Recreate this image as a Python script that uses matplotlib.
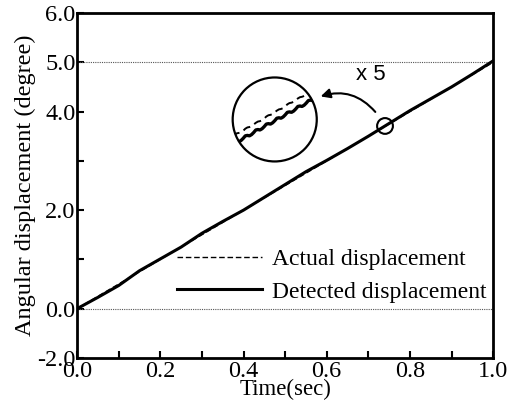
import numpy as np
import matplotlib
matplotlib.use('Agg')
import matplotlib.pyplot as plt
from matplotlib.patches import Ellipse, FancyArrowPatch
from matplotlib.ticker import MultipleLocator, FixedLocator

# --- Data ---
time_s = [0.0, 0.05, 0.1, 0.15, 0.2, 0.25, 0.3, 0.35, 0.4, 0.45, 0.5,
          0.55, 0.6, 0.65, 0.7, 0.75, 0.8, 0.85, 0.9, 0.95, 1.0]
actual_deg = [0.0, 0.25, 0.5, 0.75, 1.0, 1.25, 1.5, 1.75, 2.0, 2.25, 2.5,
              2.75, 3.0, 3.25, 3.5, 3.75, 4.0, 4.25, 4.5, 4.75, 5.0]
detected_deg = [0.0, 0.23, 0.47, 0.77, 1.01, 1.25, 1.53, 1.77, 2.0, 2.26, 2.52,
                2.78, 3.01, 3.25, 3.5, 3.76, 4.02, 4.26, 4.5, 4.76, 5.03]

# magnified view (x5) around t = 0.74, in local circle units (-1..1)
zoom_x = [-1.0, -0.95, -0.9, -0.85, -0.8, -0.75, -0.7, -0.65, -0.6, -0.55,
          -0.5, -0.45, -0.4, -0.35, -0.3, -0.25, -0.2, -0.15, -0.1, -0.05,
          0.0, 0.05, 0.1, 0.15, 0.2, 0.25, 0.3, 0.35, 0.4, 0.45,
          0.5, 0.55, 0.6, 0.65, 0.7, 0.75, 0.8, 0.85, 0.9, 0.95, 1.0]
zoom_actual = [-0.40, -0.36, -0.33, -0.32, -0.31, -0.27, -0.22, -0.19, -0.18, -0.16,
               -0.12, -0.08, -0.05, -0.04, -0.02, 0.02, 0.07, 0.10, 0.11, 0.13,
               0.17, 0.21, 0.24, 0.25, 0.27, 0.31, 0.36, 0.39, 0.40, 0.42,
               0.46, 0.50, 0.53, 0.54, 0.56, 0.60, 0.65, 0.68, 0.69, 0.71, 0.75]
zoom_detected = [-0.59, -0.53, -0.52, -0.53, -0.50, -0.45, -0.39, -0.38, -0.39, -0.36,
                 -0.31, -0.25, -0.24, -0.25, -0.22, -0.17, -0.11, -0.10, -0.11, -0.08,
                 -0.03, 0.03, 0.04, 0.03, 0.06, 0.11, 0.17, 0.18, 0.17, 0.20,
                 0.25, 0.31, 0.32, 0.31, 0.34, 0.39, 0.45, 0.46, 0.45, 0.48, 0.53]
zoom_time = 0.74

ytick_pos = [-1, 0, 2, 4, 5, 6]
ytick_labels = ['-2.0', '0.0', '2.0', '4.0', '5.0', '6.0']
xtick_pos = [0.0, 0.2, 0.4, 0.6, 0.8, 1.0]
xtick_labels = ['0.0', '0.2', '0.4', '0.6', '0.8', '1.0']

# --- Plotting ---
plt.rcParams['font.family'] = ['Liberation Serif', 'DejaVu Serif']
fig = plt.figure(figsize=(5.17, 4.09), dpi=100)
ax = fig.add_axes([0.149, 0.1247, 0.805, 0.8435])

ax.set_xlim(0, 1.0)
ax.set_ylim(-1, 6)

ax.axhline(0, color='#555555', lw=0.8, ls=(0, (1, 1)))
ax.axhline(5, color='#555555', lw=0.8, ls=(0, (1, 1)))

ax.plot(time_s, actual_deg, color='black', lw=1.0, ls=(0, (4, 2)), label='Actual displacement')
ax.plot(time_s, detected_deg, color='black', lw=2.2, label='Detected displacement')

# small circle on the curve
det_at = np.interp(zoom_time, time_s, detected_deg)
ax.add_patch(Ellipse((zoom_time, det_at), 0.038, 0.32, fill=False, lw=1.5, color='black'))

# magnified circle
cx, cy, rx, ry = 0.475, 3.84, 0.101, 0.852
big = Ellipse((cx, cy), 2 * rx, 2 * ry, fill=False, lw=1.6, color='black')
ax.add_patch(big)
zx = cx + np.array(zoom_x) * rx
l1, = ax.plot(zx, cy + np.array(zoom_actual) * ry, color='black', lw=1.4, ls=(0, (4, 2.5)))
l2, = ax.plot(zx, cy + np.array(zoom_detected) * ry, color='black', lw=2.4)
l1.set_clip_path(big)
l2.set_clip_path(big)

arrow = FancyArrowPatch((0.721, 3.95), (0.579, 4.29), connectionstyle='arc3,rad=0.35',
                        arrowstyle='-|>', mutation_scale=14, lw=1.5, color='black')
ax.add_patch(arrow)
ax.text(0.705, 4.76, 'x 5', ha='center', va='center', fontsize=16, family='Liberation Sans')

# axes styling
for s in ax.spines.values():
    s.set_linewidth(2)
ax.set_yticks(ytick_pos)
ax.set_yticklabels(ytick_labels)
ax.yaxis.set_minor_locator(FixedLocator([1, 3]))
ax.set_xticks(xtick_pos)
ax.set_xticklabels(xtick_labels)
ax.xaxis.set_minor_locator(MultipleLocator(0.1))
ax.tick_params(which='both', direction='in', width=1.5, labelsize=17.5)
ax.tick_params(axis='y', pad=1)
ax.tick_params(axis='x', pad=2)
ax.tick_params(which='major', length=5)
ax.tick_params(which='minor', length=5)

ax.set_xlabel('Time(sec)', fontsize=16.5, labelpad=-2)
ax.set_ylabel('Angular displacement (degree)', fontsize=17.5, labelpad=1)

ax.legend(loc='lower right', bbox_to_anchor=(1.0, 0.14), frameon=False, fontsize=17,
          handlelength=3.6, handletextpad=0.4, labelspacing=0.45, borderpad=0, borderaxespad=0.3)

fig.savefig('out.png', dpi=100)
